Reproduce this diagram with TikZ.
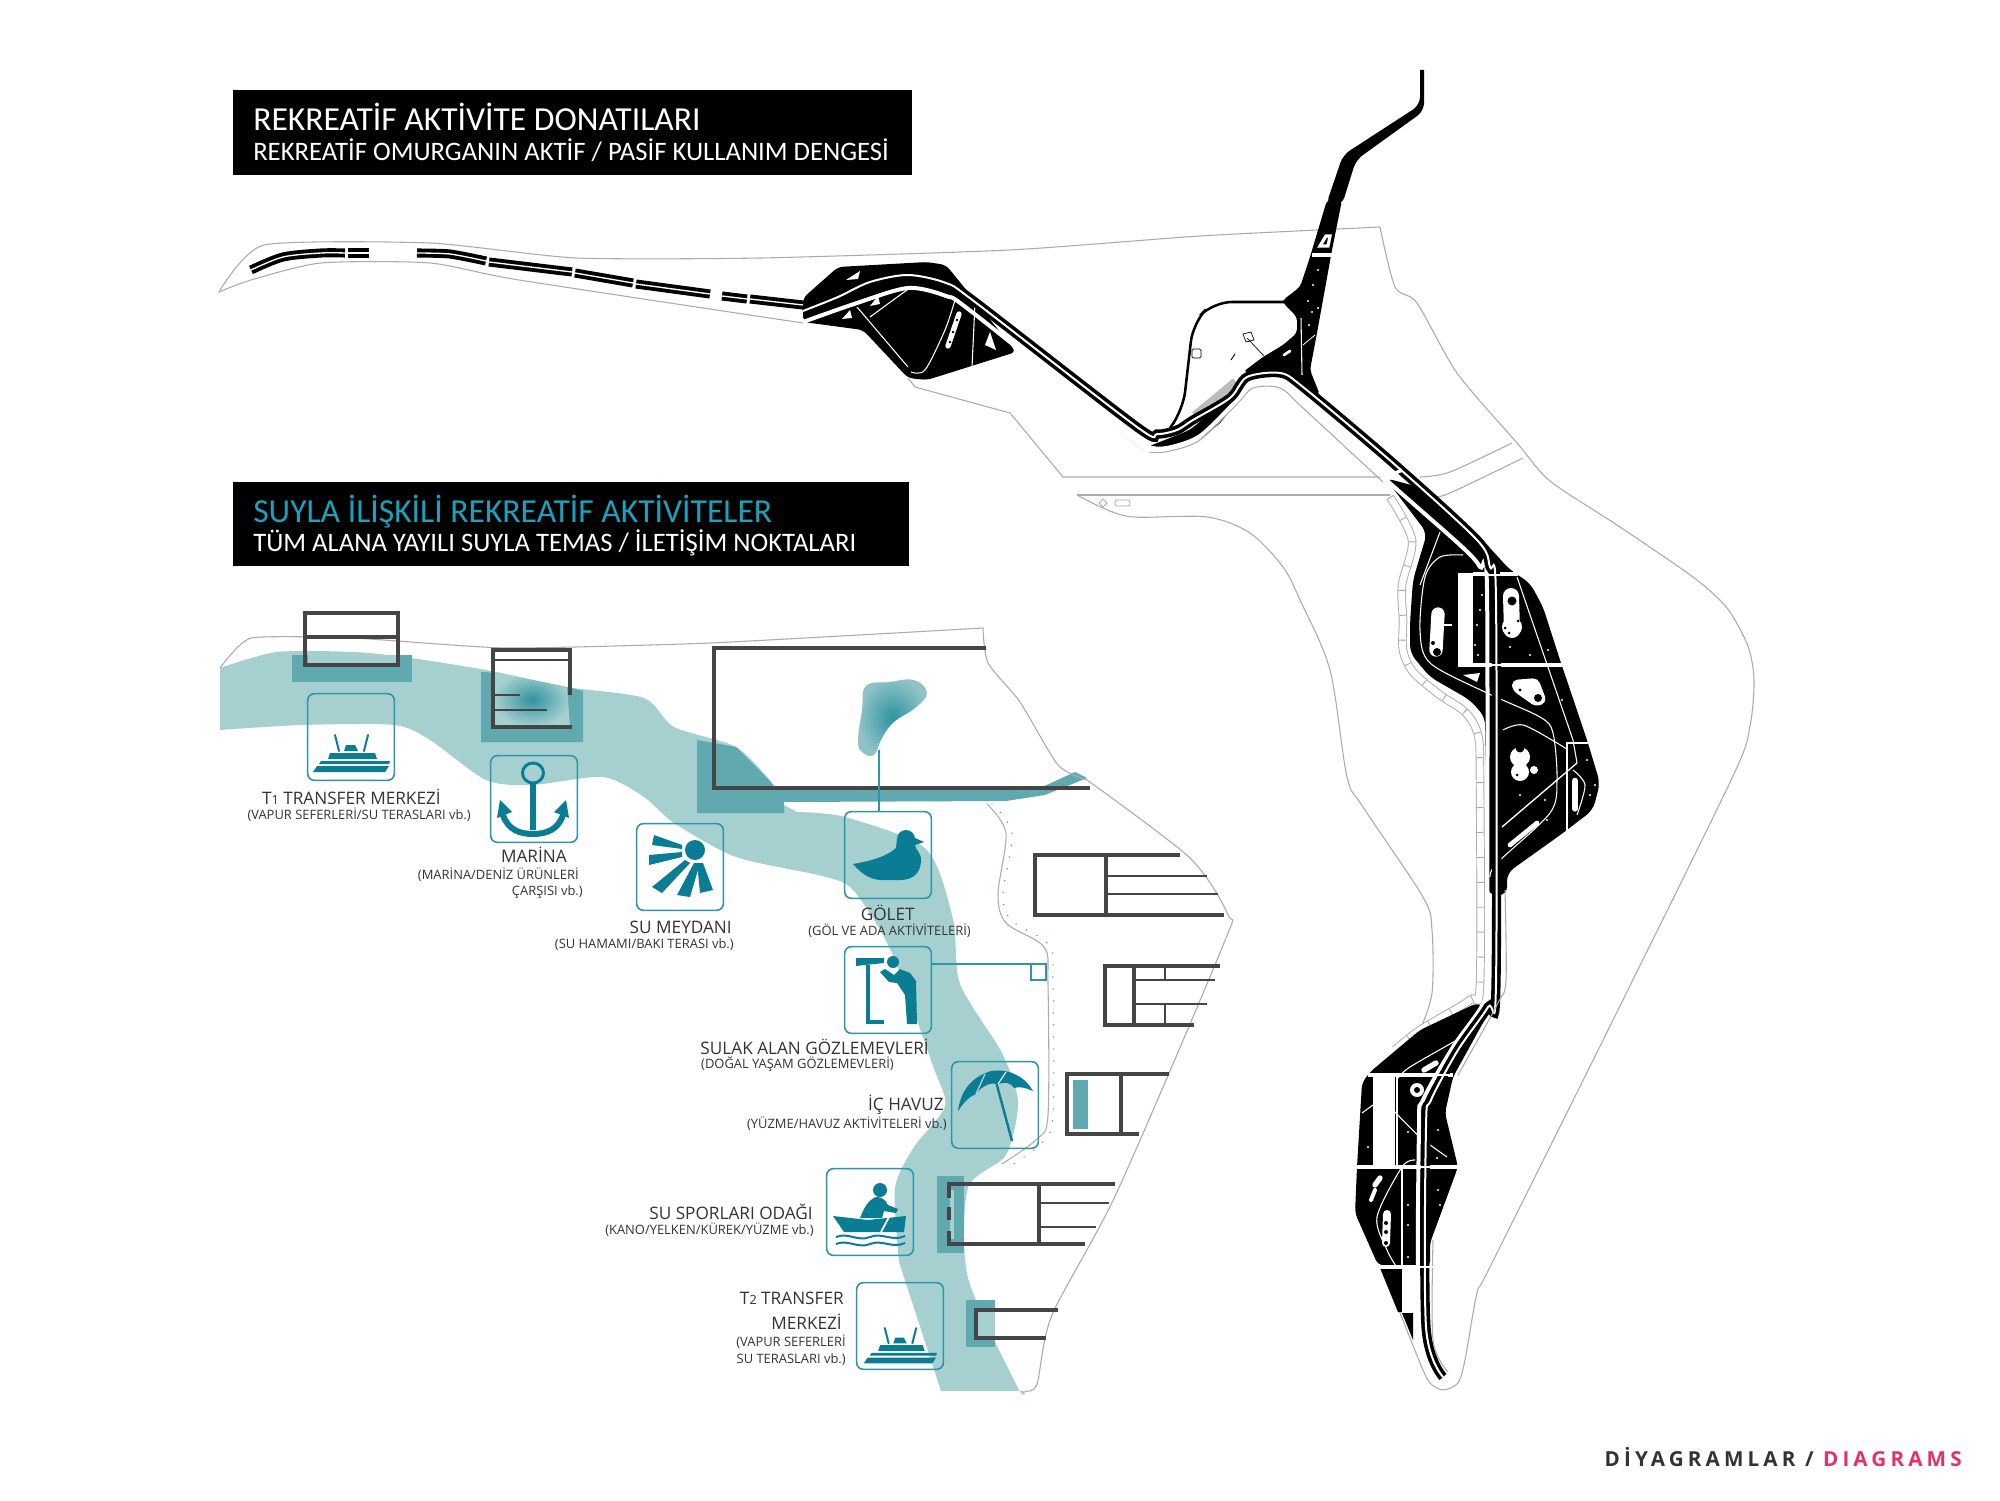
\documentclass[tikz,border=0pt]{standalone}
\usepackage{fontspec}
\setmainfont{Open Sans}
\newfontfamily\headfont{Carlito}
\newfontfamily\footfont[LetterSpace=20]{Open Sans}
\definecolor{planline}{HTML}{ABABAB}
\definecolor{riverteal}{HTML}{A6D0D0}
\definecolor{deepteal}{HTML}{5FA9AF}
\definecolor{coreteal}{HTML}{2F93A0}
\definecolor{boxteal}{HTML}{2F95AA}
\definecolor{inkteal}{HTML}{0A7C94}
\definecolor{wallgray}{HTML}{454545}
\definecolor{titleteal}{HTML}{18A2BC}
\definecolor{footpink}{HTML}{E5306F}
\definecolor{labelgray}{HTML}{333333}
\tikzset{
  planedge/.style={draw=planline,line width=0.8pt},
  strip/.style={draw=black,double=white,double distance=1pt,line width=2.9pt},
  pair/.style={draw=black,double=white,double distance=1.5pt,line width=2.7pt},
  whiteline/.style={draw=white,line width=0.8pt},
  wall/.style={draw=wallgray,line width=2.6pt},
  thinwall/.style={draw=wallgray,line width=2pt},
  iconbox/.style={draw=boxteal,line width=1.2pt,rounded corners=5pt,minimum width=65pt,minimum height=65pt,inner sep=0pt,outer sep=0pt},
  linkline/.style={draw=boxteal,line width=0.9pt},
  iconfill/.style={fill=inkteal,draw=none},
  iconline/.style={draw=inkteal,line cap=round},
  headbox/.style={fill=black,draw=none},
  bigtitle/.style={anchor=west,inner sep=0pt,font=\headfont\fontsize{25.2}{28}\selectfont},
  smalltitle/.style={anchor=west,inner sep=0pt,text=white,font=\headfont\fontsize{20}{24}\selectfont},
  mainlabel/.style={anchor=east,inner sep=0pt,text=labelgray,font=\fontsize{12.9}{15}\selectfont},
  sublabel/.style={anchor=east,inner sep=0pt,text=labelgray,font=\fontsize{9.7}{11}\selectfont},
  shipicon/.pic={
    \fill[iconfill] (-38,-35) -- (34,-35) -- (38,-29) -- (-34,-29) -- cycle;
    \fill[iconfill] (-32,-27) -- (38,-27) -- (39,-24) -- (-30,-24) -- cycle;
    \fill[iconfill] (-21,-16) -- (24,-16) -- (26,-22) -- (-23,-22) -- cycle;
    \fill[iconfill] (-7,-14) -- (-5,-8) -- (4,-8) -- (7,-14) -- cycle;
    \draw[iconline,line width=1.5pt] (-16,2) -- (-12,-14);
    \draw[iconline,line width=1.5pt] (17,2) -- (13,-14);
  }
}
\begin{document}
\begin{tikzpicture}[x=0.75pt,y=0.75pt,yscale=-1,xscale=1]
\useasboundingbox (0,0) rectangle (2000,1501);
\fill[white] (0,0) rectangle (2000,1501);

% Title boxes
\fill[headbox] (233,90) rectangle (912,175);
\fill[headbox] (233,482) rectangle (909,566);
\node[bigtitle,text=white] (title one) at (253,117) {REKREATİF AKTİVİTE DONATILARI};
\node[smalltitle] (subtitle one) at (253,150) {REKREATİF OMURGANIN AKTİF / PASİF KULLANIM DENGESİ};
\node[bigtitle,text=titleteal] (title two) at (253,512) {SUYLA İLİŞKİLİ REKREATİF AKTİVİTELER};
\node[smalltitle] (subtitle two) at (253,543) {TÜM ALANA YAYILI SUYLA TEMAS / İLETİŞİM NOKTALARI};

%Plan outline, upper shore
\draw[planedge] plot[smooth,tension=0.35] coordinates {(219,292) (264,245) (430,243) (576,258) (761,258) (1010,250) (1200,236) (1380,227)};
\draw[planedge] plot[smooth,tension=0.45] coordinates {(1380,227) (1395,287) (1417,303) (1457,373) (1517,443) (1550,481) (1617,525) (1693,577) (1727,608) (1748,646) (1754,680) (1750,726) (1733,776) (1613,1020) (1490,1267) (1477,1293) (1465,1360) (1458,1383) (1443,1390) (1430,1383) (1420,1363) (1395,1300)};
\draw[planedge] plot[smooth,tension=0.4] coordinates {(219,292) (251,280) (321,263) (430,263) (519,280) (803,323)};
\draw[planedge] (908,378) -- (915,387) -- (1010,413) -- (1063,477) -- (1383,477);
\draw[planedge] plot[smooth,tension=0.5] coordinates {(1420,477) (1450,472) (1512,443)};
\draw[planedge] plot[smooth,tension=0.5] coordinates {(1433,497) (1450,493) (1523,458)};
\draw[planedge] (1077,495) -- (1390,495);
\draw[planedge] plot[smooth,tension=0.5] coordinates {(1077,495) (1103,508) (1133,517) (1207,517) (1250,533) (1283,567) (1300,600) (1330,670) (1347,777) (1363,807) (1423,897) (1432,930) (1432,993) (1420,1030)};
\draw[planedge,line width=0.6pt] (1103,499) -- (1107,503) -- (1103,507) -- (1099,503) -- cycle;
\draw[planedge,line width=0.6pt,rounded corners=1.5pt] (1115,500) rectangle (1130,506);

%Walkway beside the spine
\draw[draw=planline,double=white,double distance=5pt,line width=0.7pt] plot[smooth,tension=0.5] coordinates {(1390,497) (1412,540) (1402,585) (1403,620) (1403,650) (1413,672) (1440,695) (1465,712) (1478,735) (1480,780) (1480,983) (1470,1000) (1420,1030) (1395,1050)};
\draw[draw=planline,line width=5pt,dash pattern={on 0.7pt off 18pt}] plot[smooth,tension=0.5] coordinates {(1390,497) (1412,540) (1402,585) (1403,620) (1403,650) (1413,672) (1440,695) (1465,712) (1478,735) (1480,780) (1480,983) (1470,1000) (1420,1030) (1395,1050)};

%Black parks
\fill[rounded corners=4pt] (803,298) -- (838,267) -- (927,262) -- (946,265) -- (972,297) -- (1016,352) -- (927,380) -- (908,378) -- (863,330) -- (803,322) -- cycle;
\fill[rounded corners=3pt] (1327,200) -- (1342,200) -- (1332,250) -- (1317,333) -- (1310,370) -- (1320,395) -- (1300,390) -- (1283,372) -- (1243,372) -- (1263,357) -- (1283,345) -- (1297,333) -- (1297,317) -- (1283,303) -- (1283,300) -- (1300,287) -- (1310,257) -- cycle;
\fill (1420,70) -- (1424,70) {[rounded corners=6pt] -- (1424,111) -- (1356,160) -- (1342,205) -- (1326,205) -- (1343,155) -- (1420,105)} -- cycle;
\fill[rounded corners=5pt] (1147,447) -- (1167,450) -- (1200,439) -- (1223,421) -- (1240,388) -- (1190,430) -- cycle;
\fill[rounded corners=6pt] (1385,478) -- (1430,490) -- (1480,537) -- (1510,570) -- (1530,583) -- (1543,607) -- (1560,660) -- (1587,740) -- (1600,783) -- (1593,810) -- (1563,833) -- (1507,873) -- (1507,895) -- (1488,895) -- (1485,717) -- (1470,700) -- (1430,677) -- (1410,653) -- (1410,623) -- (1413,580) -- (1427,533) -- cycle;
\fill[rounded corners=4pt] (1477,1003) -- (1420,1030) -- (1370,1072) -- (1362,1083) -- (1357,1167) -- (1355,1213) -- (1378,1265) -- (1430,1267) -- (1430,1243) -- (1458,1167) -- (1445,1113) -- (1453,1077) -- (1490,1010) -- cycle;
\fill (1380,1268) -- (1402,1268) -- (1402,1312) -- (1398,1312) -- cycle;
\fill (1402,1313) -- (1413,1313) -- (1413,1340) -- cycle;
%Loop line
\draw[line width=1.9pt,rounded corners=14pt] (1170,428) -- (1183,410) -- (1193,323) -- (1213,302) -- (1288,302);
%Gray band in the dip
\draw[draw=planline!80,line width=7pt] (1195,416) -- (1236,382);
\draw[line width=0.5pt] (1247,338) -- (1280,373);
\draw[line width=0.5pt] (1243,334) -- (1251,332) -- (1254,340) -- (1246,342) -- cycle;
\draw[line width=0.5pt,rounded corners=1pt] (1192,349) rectangle (1201,358);
\draw[line width=0.7pt] (1231,360) -- (1235,354);

%White openings and paths in the first park
\draw[whiteline] (857,307) -- (908,367);
\draw[whiteline] (870,317) -- (911,287);
\draw[whiteline] (975,303) -- (972,367);
\draw[whiteline] plot[smooth] coordinates {(955,300) (945,330) (925,370) (911,372)};
\draw[white,line width=4pt,line cap=round] (959,314) -- (948,346);
\foreach \py/\px in {320/957,332/953,342/950} \fill (\px,\py) circle (1.3);
\fill[white] (985,345) -- (990,332) -- (996,350) -- cycle;
\fill[white] (870,306) -- (878,296) -- (880,304) -- cycle;
\fill[white] (842,319) -- (850,310) -- (852,318) -- cycle;
\fill[white] (846,280) -- (860,271) -- (858,279) -- cycle;
%White openings in the top wedge
\draw[white,line width=2.6pt] (1312,255) -- (1334,255);
\draw[white,line width=2.4pt] (1320,246) -- (1326,236) -- (1330,236) -- (1328,246) -- cycle;
\draw[whiteline,line width=0.6pt] (1303,345) -- (1315,335);
\draw[whiteline] (1301,318) -- (1302,375);
\draw[white,line width=2pt,line cap=round] (1284,355) -- (1290,351);
\foreach \px/\py in {1318/270,1313/285,1308/301,1318/308,1312/312,1309/325} \fill[white] (\px,\py) circle (1.2);

%White openings in the big park
\fill[white] (1458,573) rectangle (1473,665);
\draw[white,line width=2.4pt] (1473,574) -- (1518,574);
\draw[white,line width=2.4pt] (1458,665) -- (1562,665);
\draw[whiteline] plot[smooth,tension=0.5] coordinates {(1463,555) (1440,557) (1425,577) (1420,630) (1430,663) (1487,693) (1540,717) (1553,733) (1557,780) (1550,813) (1497,863) (1490,877)};
\draw[whiteline] (1440,532) -- (1420,585);
\draw[whiteline] (1517,577) -- (1573,740) -- (1577,763);
\draw[whiteline,line width=1pt] (1502,827) -- (1577,763);
\draw[whiteline] plot[smooth] coordinates {(1503,730) (1523,725) (1557,743) (1568,750)};
\draw[white,line width=2pt] (1567,833) -- (1567,743) -- (1588,743);
\draw[whiteline] plot[smooth] coordinates {(1573,770) (1585,785) (1577,815)};
\draw[white,line width=10pt,line cap=round] (1438,614) -- (1436,650);
\draw[white,line width=2pt] (1443,625) -- (1452,625);
\fill (1437,652) circle (4);
\fill (1433,643) circle (2);
\draw[white,line width=12pt,line cap=round] (1511,596) -- (1512,630);
\fill[white] (1512,627) circle (10);
\fill (1512,601) circle (4.5);
\foreach \px/\py in {1505/628,1518/621,1509/633} \fill (\px,\py) circle (1.5);
\fill[white,rounded corners=4pt] (1512,680) -- (1538,678) -- (1547,702) -- (1536,707) -- (1512,690) -- cycle;
\fill (1538,698) circle (4);
\fill (1520,690) circle (1.6);
\fill[white] (1520,757) circle (10);
\fill[white] (1520,772) circle (9);
\fill[white] (1534,770) circle (4);
\fill (1520,748) circle (4.5);
\fill (1529,765) circle (2.2);
\fill (1517,775) circle (1.5);
\draw[white,line width=3.5pt,line cap=round,dash pattern={on 5pt off 1pt}] (1510,845) -- (1537,823);
\draw[white,line width=5pt,line cap=round,dash pattern={on 4pt off 1.5pt}] (1575,781) -- (1575,809);
\fill[white] (1463,675) -- (1480,673) -- (1477,682) -- cycle;
\foreach \px/\py in {1480/610,1477/625,1475/645,1482/595,1478/655,1548/650,1565/655,1562/700,1587/760,1595/785,1590/795,1520/795,1545/800,1547/820,1510/647,1530/655} \fill[white] (\px,\py) circle (1.2);

%White openings in the lower park
\fill[white] (1373,1076) rectangle (1395,1165);
\fill[white] (1402,1268) rectangle (1418,1312);
\draw[white,line width=2.6pt] (1368,1075) -- (1453,1075);
\draw[white,line width=2.4pt] (1357,1167) -- (1458,1167);
\draw[white,line width=2.4pt] (1380,1267) -- (1430,1267);
\draw[white,line width=2pt] (1402,1312) -- (1430,1312);
\draw[whiteline] (1397,1075) -- (1397,1165);
\draw[whiteline] (1402,1168) -- (1402,1266);
\draw[whiteline] plot[smooth] coordinates {(1457,1040) (1410,1067) (1398,1078)};
\draw[whiteline] plot[smooth] coordinates {(1415,1160) (1402,1167) (1377,1217) (1387,1250) (1396,1266)};
\draw[whiteline] plot[smooth] coordinates {(1362,1113) (1373,1105)};
\draw[whiteline] plot[smooth] coordinates {(1393,1110) (1420,1137) (1447,1157)};
\fill[white] (1417,1090) circle (7);
\fill (1417,1090) circle (3);
\draw[white,line width=4pt,line cap=round] (1424,1070) -- (1436,1063);
\draw[white,line width=4pt,line cap=round] (1380,1178) -- (1375,1185);
\draw[white,line width=3pt,line cap=round] (1375,1190) -- (1371,1200);
\draw[white,line width=6pt,line cap=round] (1387,1214) -- (1386,1243);
\foreach \py in {1223,1232,1243} \fill (1386,\py) circle (2);
\foreach \px/\py in {1368/1147,1438/1130,1437/1158,1408/1132,1438/1190,1440/1205,1408/1205,1408/1225,1408/1257} \fill[white] (\px,\py) circle (1.2);

%Spine: pale edge, white edge, double black line
\draw[planedge] plot[smooth,tension=0.5] coordinates {(1050,373) (1133,442) (1150,452) (1170,451) (1200,440) (1237,404) (1253,388) (1280,388) (1303,408) (1383,482)};
\draw[white,line width=3pt] plot[smooth,tension=0.5] coordinates {(803,322) (857,303) (908,288) (946,296) (972,312) (1133,440) (1147,447) (1167,448) (1200,436) (1237,400) (1253,383) (1280,383) (1303,403) (1383,477) (1460,545) (1480,567) (1487,590) (1487,960) (1485,1000) (1453,1047) (1423,1100) (1419,1127) (1419,1330) (1437,1383)};
\draw[pair] plot[smooth,tension=0.5] coordinates {(803,311) (838,297) (870,282) (908,275) (946,283) (975,302) (1137,427) (1157,434) (1177,430) (1193,420) (1230,398) (1247,377) (1280,373) (1303,387) (1393,463) (1477,540) (1490,567) (1496,600) (1496,983) (1488,1007) (1458,1050) (1431,1100) (1426,1127) (1426,1327) (1443,1377)};
\draw[planedge] plot[smooth,tension=0.5] coordinates {(1505,890) (1506,980) (1498,1003) (1458,1075)};
\draw[planedge] plot[smooth,tension=0.5] coordinates {(1433,1240) (1433,1340) (1448,1372)};
\draw[white,line width=2.6pt] (1383,479) -- (1402,470);
\draw[white,line width=1.5pt] (1476,575) -- (1518,575);
\draw[white,line width=1.5pt] (1473,665) -- (1518,665);
\draw[white,line width=1.5pt] (1418,1075) -- (1453,1075);
\draw[white,line width=1.5pt] (1415,1167) -- (1440,1167);
\draw[white,line width=1.5pt] (1415,1267) -- (1435,1267);

%West strip of the spine
\draw[strip] plot[smooth,tension=0.5] coordinates {(251,270) (283,257) (321,253) (345,253)};
\draw[strip] (348,253) -- (369,253);
\draw[strip] plot[smooth,tension=0.4] coordinates {(417,253) (450,254) (486,261)};
\draw[strip] (489,262) -- (572,272);
\draw[strip] (575,273) -- (633,283);
\draw[strip] (636,284) -- (710,294);
\draw[strip] (722,296) -- (747,299);
\draw[strip] (750,299) -- (803,305);

%River
\fill[riverteal] plot[smooth,tension=0.45] coordinates {(220,668) (277,652) (353,652) (404,657) (486,670) (567,687) (644,698) (674,727) (736,747) (771,782) (784,805)} -- plot[smooth,tension=0.45] coordinates {(797,812) (845,817) (926,849) (953,919) (960,984) (1002,1053) (1018,1102) (1006,1155) (968,1188) (968,1278) (1018,1388) (1025,1391)} -- (941,1391) -- plot[smooth,tension=0.45] coordinates {(899,1262) (895,1188) (914,1147) (945,1106) (933,1066) (891,951) (853,890) (822,876) (736,857) (674,823) (644,797) (603,777) (532,785) (486,780) (430,740) (394,725) (302,725) (220,730)} -- cycle;
\fill[deepteal] (697,740) -- (736,747) -- (771,782) -- (775,788) -- (1040,788) -- (1075,772) -- (1087,778) -- (1045,795) -- (1006,801) -- (784,802) -- (784,813) -- (697,813) -- cycle;
%Docks in the river
\fill[deepteal] (292,655) rectangle (412,682);
\fill[riverteal] (308,655) rectangle (396,663);
\fill[deepteal] (481,672) -- (486,672) -- (567,687) -- (583,691) -- (583,742) -- (481,742) -- cycle;
\shade[inner color=coreteal,outer color=riverteal] (494,672) -- (567,687) -- (570,727) -- (494,727) -- cycle;
\shade[inner color=coreteal,outer color=deepteal!70!white] plot[smooth cycle,tension=0.7] coordinates {(866,686) (890,682) (914,680) (927,693) (915,708) (894,722) (882,738) (874,755) (862,752) (858,740) (862,710)};

%Plan outline around the river
\draw[planedge] plot[smooth,tension=0.3] coordinates {(220,668) (251,638) (353,638) (506,648) (710,643) (983,628)};
\draw[planedge] plot[smooth,tension=0.4] coordinates {(983,628) (988,663) (1020,702) (1058,765) (1087,780)};
\draw[planedge] plot[smooth,tension=0.45] coordinates {(1087,780) (1190,858) (1228,915) (1224,943) (1117,1192) (1052,1315) (1037,1384) (1025,1391)};
\draw[planedge] plot[smooth,tension=0.5] coordinates {(987,804) (1006,833) (998,894) (1006,923) (1044,947) (1048,984) (1048,1115) (1037,1139) (1002,1164)};
\draw[draw=boxteal,line width=1.1pt,line cap=round,dash pattern={on 0pt off 9pt}] plot[smooth,tension=0.5] coordinates {(992,804) (1012,833) (1003,894) (1011,920) (1049,945) (1053,984) (1053,1115) (1042,1143) (1012,1165)};

%Walls of the docks and buildings
\draw[wall] (305,613) rectangle (398,665);
\draw[wall] (305,637) -- (398,637);
\draw[wall] (570,695) -- (570,650) -- (493,650) -- (493,727) -- (572,727);
\draw[thinwall] (493,660) -- (570,660);
\draw[thinwall] (493,695) -- (520,695);
\draw[thinwall] (493,710) -- (547,710);
\draw[wall,line width=3pt] (986,648) -- (714,648) -- (714,788) -- (1090,788);
\draw[wall] (1180,855) -- (1035,855) -- (1035,915) -- (1224,915);
\draw[wall] (1106,855) -- (1106,915);
\draw[thinwall] (1106,876) -- (1207,876);
\draw[thinwall] (1106,894) -- (1218,894);
\draw[wall] (1220,966) -- (1105,966) -- (1105,1025) -- (1194,1025);
\draw[wall] (1134,966) -- (1134,1025);
\draw[thinwall] (1165,966) -- (1165,980);
\draw[thinwall] (1165,1004) -- (1165,1025);
\draw[thinwall] (1134,980) -- (1215,980);
\draw[thinwall] (1134,1004) -- (1207,1004);
\fill[deepteal] (1073,1080) rectangle (1088,1129);
\draw[wall] (1169,1074) -- (1067,1074) -- (1067,1134) -- (1139,1134);
\draw[wall] (1121,1074) -- (1121,1134);
\fill[deepteal] (937,1176) rectangle (964,1253);
\fill[riverteal] (950,1190) rectangle (954,1239);
\draw[wall] (949,1198) -- (949,1184) -- (1115,1184);
\draw[wall] (949,1207) -- (949,1220);
\draw[wall] (949,1231) -- (949,1244) -- (1085,1244);
\draw[wall] (1039,1184) -- (1039,1244);
\draw[thinwall] (1039,1203) -- (1109,1203);
\draw[thinwall] (1039,1227) -- (1096,1227);
\fill[deepteal] (966,1300) rectangle (995,1347);
\fill[riverteal] (978,1312) rectangle (995,1336);
\draw[wall] (1058,1310) -- (976,1310) -- (976,1338) -- (1046,1338);

%Icon boxes
\node[iconbox] (ferry one) at (351,737) {};
\node[iconbox] (marina) at (534,799) {};
\node[iconbox] (square) at (680,867) {};
\node[iconbox] (pond) at (888,855) {};
\node[iconbox] (watch) at (888,990) {};
\node[iconbox] (pool) at (995,1105) {};
\node[iconbox] (rowing) at (870,1212) {};
\node[iconbox] (ferry two) at (900,1326) {};
\coordinate (pond water) at (879,750);
\coordinate (watch end) at (1046,964);
\coordinate (watch low) at (1046,980);
\coordinate (watch left) at (1031,980);
\coordinate (watch top) at (1031,964);
\draw[linkline] (pond water) -- (pond water |- pond.north);
\draw[linkline] (watch.east |- watch end) -- (watch end) -- (watch low) -- (watch left) -- (watch top);

%Ship icons
\pic at (351,737) {shipicon};
\pic[scale=0.95] at (900,1330) {shipicon};

%Anchor icon
\draw[iconline,line width=2.2pt] (533,773) ellipse (10.5 and 10);
\draw[draw=inkteal,line width=4.5pt] (533,783) -- (533,830);
\draw[iconline,line width=4.5pt] (503,815) .. controls (508,830) and (520,834) .. (533,834) .. controls (546,834) and (558,830) .. (563,815);
\fill[iconfill] (497,818) -- (500,800) -- (512,812) -- cycle;
\fill[iconfill] (569,818) -- (566,800) -- (554,812) -- cycle;

%Sun icon
\fill[iconfill] (695,850) circle (10);
\fill[iconfill] (654,835) -- (682,845) -- (682,849) -- (652,845) -- cycle;
\fill[iconfill] (649,855) -- (682,852) -- (682,857) -- (649,865) -- cycle;
\fill[iconfill] (652,887) -- (685,860) -- (690,863) -- (662,893) -- cycle;
\fill[iconfill] (677,895) -- (694,863) -- (700,863) -- (690,897) -- cycle;
\fill[iconfill] (700,893) -- (697,863) -- (703,863) -- (713,890) -- cycle;

%Duck icon
\fill[iconfill] (906,839) circle (9);
\fill[iconfill] (853,864) .. controls (865,862) and (885,858) .. (896,848) -- (897,838) -- (915,838) -- (924,842) -- (915,845) .. controls (915,850) and (922,852) .. (921,862) .. controls (920,874) and (912,880) .. (900,880) -- (880,880) .. controls (868,879) and (860,872) .. (853,864) -- cycle;

%Watcher icon
\fill[iconfill] (856,958) -- (884,958) -- (884,963) -- (856,966) -- cycle;
\draw[draw=inkteal,line width=3pt] (868,965) -- (868,1022) -- (884,1022);
\fill[iconfill] (893,962) circle (6);
\fill[iconfill] (880,972) -- (885,969) -- (894,975) -- (900,969) -- (910,973) -- (916,981) -- (917,1024) -- (907,1024) -- (905,995) -- (897,983) -- (889,982) -- cycle;

%Umbrella icon
\fill[iconfill] (958,1111) .. controls (960,1095) and (968,1078) .. (991,1071) .. controls (1010,1068) and (1026,1078) .. (1033,1091) .. controls (1026,1088) and (1020,1086) .. (1014,1088) .. controls (1010,1082) and (1005,1082) .. (998,1084) .. controls (990,1082) and (982,1086) .. (976,1094) .. controls (970,1096) and (964,1102) .. (958,1111) -- cycle;
\draw[draw=inkteal,line width=1.8pt] (995,1078) -- (1012,1141);
\draw[draw=riverteal,line width=1pt] (976,1094) -- (985,1074);
\draw[draw=white,line width=0.8pt] (998,1084) -- (1006,1072);

%Rower icon
\fill[iconfill] (880,1190) circle (7);
\fill[iconfill] (876,1197) .. controls (884,1197) and (886,1202) .. (888,1205) -- (898,1209) -- (896,1213) -- (884,1211) -- (882,1218) -- (860,1218) .. controls (864,1208) and (868,1200) .. (876,1197) -- cycle;
\fill[iconfill] (833,1216) -- (868,1220) -- (906,1216) -- (904,1232) -- (844,1232) -- cycle;
\draw[draw=white,line width=1.3pt] (889,1217) -- (881,1232);
\draw[draw=inkteal,line width=1.5pt] (836,1237) .. controls (848,1232) and (858,1242) .. (870,1237) .. controls (882,1232) and (892,1242) .. (905,1236);
\draw[draw=inkteal,line width=1.5pt] (836,1244) .. controls (848,1239) and (858,1249) .. (870,1244) .. controls (882,1239) and (892,1249) .. (905,1243);

%Labels
\node[mainlabel] (t one name) at (441,797) {T{\fontsize{9.5}{10}\selectfont 1} TRANSFER MERKEZİ};
\node[sublabel] (t one note) at (471,815) {(VAPUR SEFERLERİ/SU TERASLARI vb.)};
\node[mainlabel] (marina name) at (567,855) {MARİNA};
\node[sublabel] (marina note a) at (579,875) {(MARİNA/DENİZ ÜRÜNLERİ};
\node[sublabel] (marina note b) at (583,892) {ÇARŞISI vb.)};
\node[mainlabel] (square name) at (732,927) {SU MEYDANI};
\node[sublabel] (square note) at (734,945) {(SU HAMAMI/BAKI TERASI vb.)};
\node[mainlabel] (pond name) at (915,913) {GÖLET};
\node[sublabel] (pond note) at (971,931) {(GÖL VE ADA AKTİVİTELERİ)};
\node[mainlabel] (watch name) at (929,1047) {SULAK ALAN GÖZLEMEVLERİ};
\node[sublabel] (watch note) at (894,1064) {(DOĞAL YAŞAM GÖZLEMEVLERİ)};
\node[mainlabel] (pool name) at (944,1105) {İÇ HAVUZ};
\node[sublabel] (pool note) at (947,1124) {(YÜZME/HAVUZ AKTİVİTELERİ vb.)};
\node[mainlabel] (rowing name) at (813,1212) {SU SPORLARI ODAĞI};
\node[sublabel] (rowing note) at (814,1230) {(KANO/YELKEN/KÜREK/YÜZME vb.)};
\node[mainlabel] (t two name a) at (844,1298) {T{\fontsize{9.5}{10}\selectfont 2} TRANSFER};
\node[mainlabel] (t two name b) at (842,1322) {MERKEZİ};
\node[sublabel] (t two note a) at (846,1342) {(VAPUR SEFERLERİ};
\node[sublabel] (t two note b) at (846,1360) {SU TERASLARI vb.)};

% Text Node
\node[anchor=east,inner sep=0pt,font=\footfont\bfseries\fontsize{15.5}{17}\selectfont] (foot) at (1962,1457) {\textcolor{labelgray}{DİYAGRAMLAR /} \textcolor{footpink}{DIAGRAMS}};

\end{tikzpicture}
\end{document}
